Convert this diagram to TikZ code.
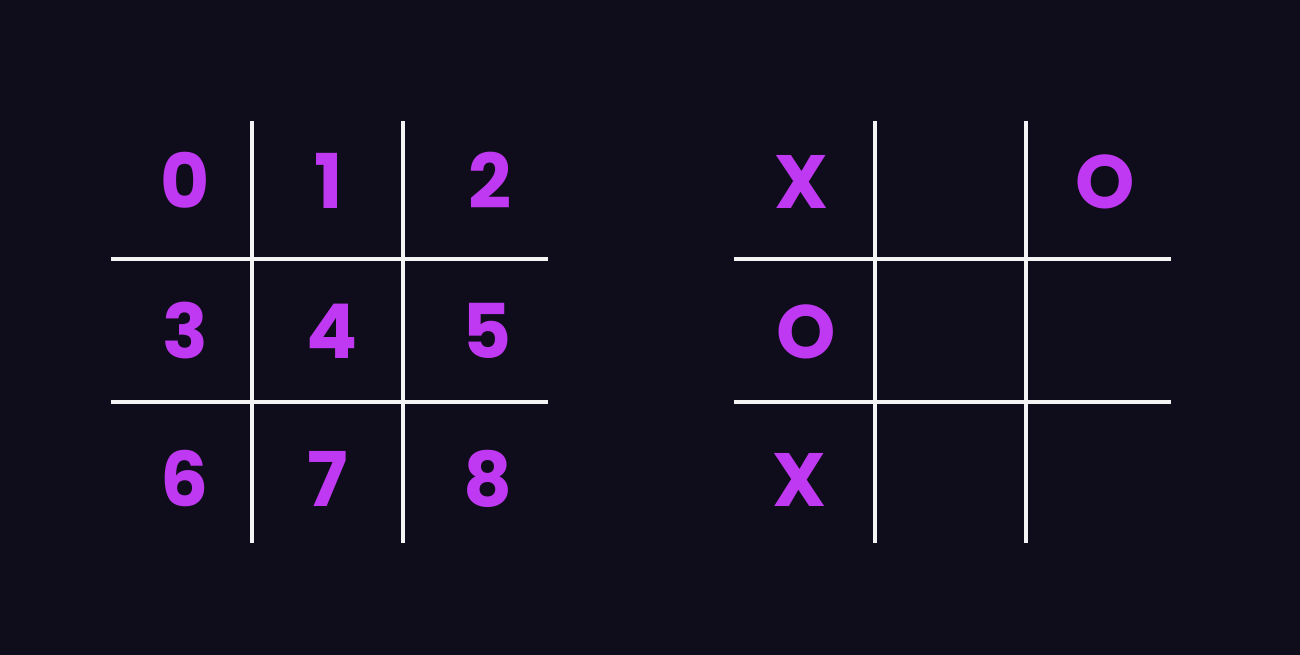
\documentclass[tikz,border=0pt]{standalone}
\usepackage{fontspec}
\setmainfont{Poppins}
\definecolor{bg}{HTML}{0F0C1C}
\definecolor{mark}{HTML}{C039F2}
\definecolor{gridc}{HTML}{F4F4F4}
\begin{document}
\begin{tikzpicture}[x=0.02cm,y=-0.02cm,
  gridline/.style={draw=gridc,line width=4.5*0.02cm},
  cell/.style={text=mark,font=\fontsize{43}{43}\selectfont\bfseries,anchor=base,inner sep=0pt}]
\fill[bg] (0,0) rectangle (1300,655);
\useasboundingbox (0,0) rectangle (1300,655);
% left grid
\coordinate (lv1t) at (252,121); \coordinate (lv1b) at (252,543);
\coordinate (lv2t) at (403,121); \coordinate (lv2b) at (403,543);
\coordinate (lh1l) at (111,259); \coordinate (lh1r) at (548,259);
\coordinate (lh2l) at (111,402); \coordinate (lh2r) at (548,402);
\draw[gridline] (lv1t) -- (lv1b);
\draw[gridline] (lv2t) -- (lv2b);
\draw[gridline] (lh1l) -- (lh1r);
\draw[gridline] (lh2l) -- (lh2r);
\node[cell] (l0) at (185,209) {0};
\node[cell] (l1) at (329,209) {1};
\node[cell] (l2) at (490,209) {2};
\node[cell] (l3) at (185,358) {3};
\node[cell] (l4) at (332,358) {4};
\node[cell] (l5) at (487,358) {5};
\node[cell] (l6) at (185,506) {6};
\node[cell] (l7) at (328,506) {7};
\node[cell] (l8) at (488,506) {8};
% right grid
\coordinate (rv1t) at (875,121); \coordinate (rv1b) at (875,543);
\coordinate (rv2t) at (1026,121); \coordinate (rv2b) at (1026,543);
\coordinate (rh1l) at (734,259); \coordinate (rh1r) at (1171,259);
\coordinate (rh2l) at (734,402); \coordinate (rh2r) at (1171,402);
\draw[gridline] (rv1t) -- (rv1b);
\draw[gridline] (rv2t) -- (rv2b);
\draw[gridline] (rh1l) -- (rh1r);
\draw[gridline] (rh2l) -- (rh2r);
\node[cell] (r0) at (801,209) {X};
\node[cell] (r2) at (1105,209) {O};
\node[cell] (r3) at (806,358) {O};
\node[cell] (r6) at (799,506) {X};
\end{tikzpicture}
\end{document}
